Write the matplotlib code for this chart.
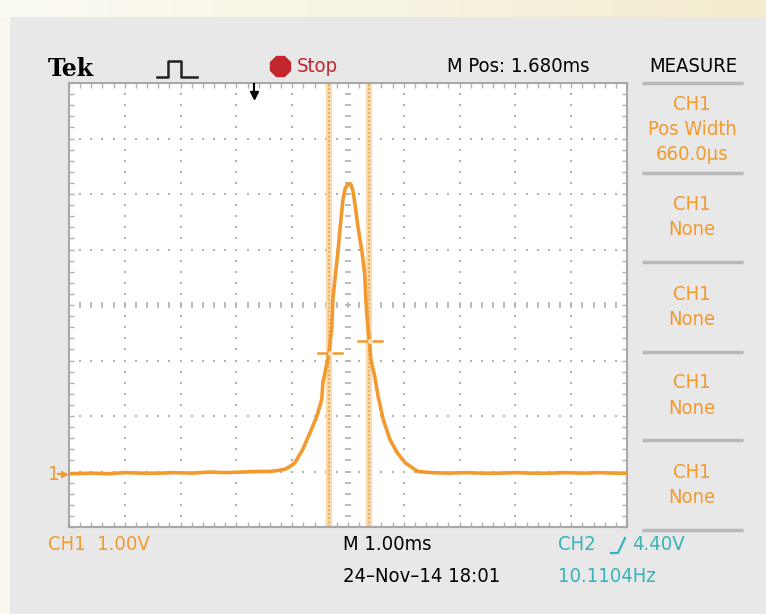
import numpy as np
import matplotlib
matplotlib.use("Agg")
import matplotlib.pyplot as plt
from matplotlib import font_manager

# CH1 trace, time in ms (0 = screen centre), volts above ground
t_ms = [-5.0, -4.6, -4.3, -4.0, -3.7, -3.4, -3.1, -2.8, -2.5, -2.2, -1.9,
        -1.6, -1.4, -1.25, -1.13, -1.04, -0.95, -0.81, -0.68, -0.56, -0.47,
        -0.45, -0.39, -0.34, -0.29, -0.27, -0.22, -0.18, -0.14, -0.09, -0.05,
        0.0, 0.05, 0.09, 0.125, 0.18, 0.25, 0.30, 0.32, 0.34, 0.38,
        0.41, 0.48, 0.54, 0.63, 0.75, 0.88, 1.02, 1.25,
        1.5, 1.8, 2.1, 2.4, 2.7, 3.0, 3.3, 3.6, 3.9, 4.2, 4.5, 4.8, 5.0]
v_volts = [-0.04, -0.03, -0.04, -0.02, -0.03, -0.03, -0.02, -0.03, -0.01, -0.02, -0.01,
           0.0, 0.0, 0.02, 0.04, 0.09, 0.16, 0.40, 0.70, 0.99, 1.30,
           1.60, 1.89, 2.14, 2.61, 3.12, 3.60, 3.96, 4.40, 4.90, 5.10,
           5.18, 5.18, 5.05, 4.81, 4.40, 3.96, 3.55, 3.10, 2.79, 2.38,
           2.02, 1.71, 1.35, 0.94, 0.58, 0.34, 0.16, 0.0,
           -0.02, -0.03, -0.02, -0.03, -0.03, -0.02, -0.03, -0.03, -0.02, -0.03, -0.02, -0.03, -0.03]

cursor_t = [-0.34, 0.38]
level_marks = [(-0.54, -0.11, 2.13), (0.18, 0.61, 2.36)]
trigger_t = -1.68

measure_rows = [["CH1", "Pos Width", "660.0μs"], ["CH1", "None"], ["CH1", "None"],
                ["CH1", "None"], ["CH1", "None"]]

ORANGE = "#f29a2e"
CYAN = "#35b3bb"
RED = "#c1272d"
GRID = "#b0b0b0"

# look for a condensed sans face, the scope font is narrow
NARROW, STRETCH, FS = "DejaVu Sans", "normal", 12.5
for f in font_manager.fontManager.ttflist:
    st = str(f.stretch).lower()
    if ("condensed" in st or "narrow" in f.name.lower() or "condensed" in f.name.lower()) \
            and "italic" not in str(f.style).lower() and "mono" not in f.name.lower():
        NARROW, STRETCH, FS = f.name, f.stretch, 14.5
        break
TXT = dict(family=NARROW, fontstretch=STRETCH, fontsize=FS)

fig = plt.figure(figsize=(7.66, 6.14), dpi=100, facecolor="#e8e8e8")

# screen furniture in pixel coordinates
deco = fig.add_axes([0, 0, 1, 1], zorder=0)
deco.axis("off")
grad = np.linspace(0, 1, 256).reshape(1, -1)
cmap = matplotlib.colors.LinearSegmentedColormap.from_list("bg", ["#fcfbf4", "#f3ecd0"])
deco.imshow(grad, extent=[0, 766, 17, 0], aspect="auto", cmap=cmap)
deco.add_patch(plt.Rectangle((0, 17), 10, 597, color="#faf8ee", lw=0))
deco.set_xlim(0, 766)
deco.set_ylim(614, 0)

deco.text(48, 69, "Tek", family="DejaVu Serif", weight="bold", fontsize=17,
          va="center", ha="left", color="black")
deco.plot([157, 168, 168, 181, 181, 197], [77, 77, 61, 61, 77, 77], color="#222222", lw=1.8)
deco.plot(280, 66, marker="8", markersize=15, color=RED)
deco.text(297, 66, "Stop", color=RED, va="center", **TXT)
deco.text(447, 66, "M Pos: 1.680ms", color="black", va="center", **TXT)
deco.text(693, 66, "MEASURE", color="black", va="center", ha="center", **TXT)

for ys in [83, 173, 262, 352, 440, 530]:
    deco.plot([642, 743], [ys, ys], color="#b8b8b8", lw=2.5, solid_capstyle="butt")
row_tops = [104, 204, 294, 383, 472]
for y0, row in zip(row_tops, measure_rows):
    for i, s in enumerate(row):
        deco.text(692, y0 + i * 25.5, s, color=ORANGE, ha="center", va="center", **TXT)

deco.text(48, 475, "1", color=ORANGE, va="center", **TXT)
deco.plot([58, 64], [474, 474], color=ORANGE, lw=1.5)
deco.plot(64, 474, marker=">", markersize=5, color=ORANGE)

deco.text(48, 545, "CH1  1.00V", color=ORANGE, va="center", **TXT)
deco.text(343, 545, "M 1.00ms", color="black", va="center", **TXT)
deco.text(343, 576, "24–Nov–14 18:01", color="black", va="center", **TXT)
deco.text(558, 545, "CH2", color=CYAN, va="center", **TXT)
deco.plot([611, 618, 625], [553, 553, 538], color=CYAN, lw=1.6)
deco.text(632, 545, "4.40V", color=CYAN, va="center", **TXT)
deco.text(558, 576, "10.1104Hz", color=CYAN, va="center", **TXT)

# graticule
ax = fig.add_axes([69 / 766, 1 - 527 / 614, 558 / 766, 444 / 614], zorder=1)
ax.set_facecolor("white")
ax.set_xlim(-5, 5)
ax.set_ylim(-1, 7)
for sp in ax.spines.values():
    sp.set_color("#a8a8a8")
    sp.set_linewidth(1.5)

fine_t = np.arange(-5, 5.001, 0.2)
fine_v = np.arange(-1, 7.001, 0.2)
ax.set_xticks(fine_t)
ax.set_yticks(fine_v)
ax.tick_params(which="both", direction="in", length=3.5, width=1, color=GRID,
               top=True, right=True, labelbottom=False, labelleft=False)

for gx in range(-4, 5):
    if gx == 0:
        ax.plot(np.zeros_like(fine_v), fine_v, ls="none", marker="_", ms=5, mew=1.2, color=GRID)
    else:
        ax.plot(np.full_like(fine_v, gx), fine_v, ls="none", marker="s", ms=1.6, mew=0, color=GRID)
for gy in range(0, 7):
    if gy == 3:
        ax.plot(fine_t, np.full_like(fine_t, 3), ls="none", marker="|", ms=5, mew=1.2, color=GRID)
    else:
        ax.plot(fine_t, np.full_like(fine_t, gy), ls="none", marker="s", ms=1.6, mew=0, color=GRID)

for ct in cursor_t:
    ax.axvline(ct, color="#f8dab0", lw=4.5, zorder=2)
    ax.axvline(ct, color="#f0a848", lw=1.3, dashes=(1, 1.2), zorder=2)

ax.plot(t_ms, v_volts, color=ORANGE, lw=2.6, zorder=3)

for x0, x1, lv in level_marks:
    ax.plot([x0, x1], [lv, lv], color=ORANGE, lw=1.8, zorder=4)
    ax.plot((x0 + x1) / 2, lv, marker="o", ms=3.5, mfc="#fbe3c0", mec="none", zorder=5)

ax.plot([trigger_t, trigger_t], [6.98, 6.78], color="black", lw=1.5, zorder=4)
ax.plot(trigger_t, 6.78, marker="v", ms=6, color="black", zorder=4)

fig.savefig("out.png", dpi=100, facecolor=fig.get_facecolor())
